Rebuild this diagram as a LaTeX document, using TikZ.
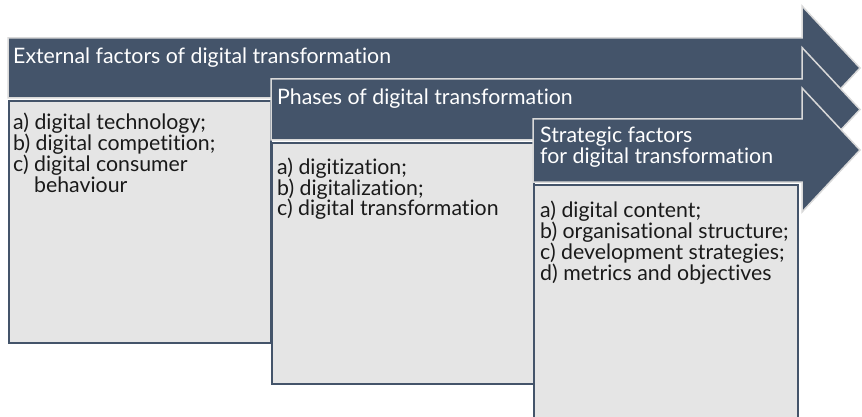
\documentclass[tikz,border=0pt]{standalone}
\usepackage{fontspec}
\setmainfont{Lato}[Ligatures=NoCommon]
\definecolor{slate}{HTML}{44546A}
\definecolor{boxfill}{HTML}{E5E5E5}
\definecolor{rim}{HTML}{D9D9D9}
\definecolor{ink}{HTML}{1A1A1A}
\newcommand{\topstrut}{\rule{0pt}{18pt}}
\tikzset{
  arrowshape/.style={fill=slate, draw=rim, line width=1.5pt, line join=miter},
  listbox/.style={fill=boxfill, draw=slate, line width=2pt},
  txt/.style={anchor=north west, inner sep=0pt, align=left,
    font=\fontsize{21.3}{20.8}\selectfont},
  title/.style={txt, text=white},
  items/.style={txt, text=ink},
}
\newcommand{\arrowat}[4]{% left, top, bottom, center
  \path[arrowshape] (#1,#2) -- (802,#2) -- (802,#4-62) -- (860,#4) -- (802,#4+62) -- (802,#3) -- (#1,#3) -- cycle;}
\begin{document}
\begin{tikzpicture}[x=1pt,y=-1pt]
\useasboundingbox (0,0) rectangle (862,417);
\clip (0,0) rectangle (862,417);
% arrow 1 and box 1
\arrowat{8}{38}{98}{68}
\path[listbox] (9,101) rectangle (271,343);
\node[title] (t1) at (13,45.5) {\topstrut External factors of digital transformation};
\node[items] (l1) at (13,111.5) {\topstrut a) digital technology;\\b) digital competition;\\c) digital consumer\\\hphantom{c)\ }behaviour};
% arrow 2 and box 2
\arrowat{271}{79}{140}{109.5}
\path[listbox] (272,143) rectangle (534,384);
\node[title] (t2) at (277,86.5) {\topstrut Phases of digital transformation};
\node[items] (l2) at (277,156) {\topstrut a) digitization;\\b) digitalization;\\c) digital transformation};
% arrow 3 and box 3
\arrowat{533}{119}{182}{150}
\path[listbox] (534,185) rectangle (798,430);
\node[title] (t3) at (540,124.5) {\topstrut Strategic factors\\for digital transformation};
\node[items] (l3) at (540,199.5) {\topstrut a) digital content;\\b) organisational structure;\\c) development strategies;\\d) metrics and objectives};
\end{tikzpicture}
\end{document}
